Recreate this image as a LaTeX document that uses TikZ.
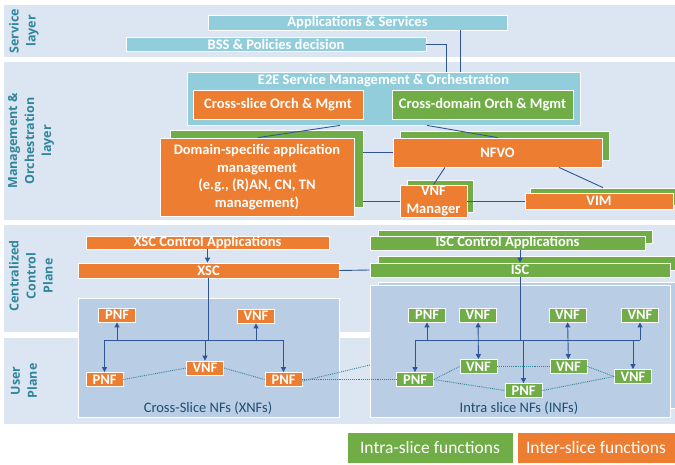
\documentclass[tikz,border=0pt]{standalone}
\usepackage{fontspec}
\setmainfont{Carlito}
\newfontfamily\sidefont{Open Sans}
\usetikzlibrary{arrows.meta}
\definecolor{laybg}{RGB}{220,230,242}
\definecolor{panelbg}{RGB}{185,205,229}
\definecolor{skyblue}{RGB}{146,205,220}
\definecolor{orng}{RGB}{237,125,49}
\definecolor{grn}{RGB}{112,173,71}
\definecolor{sidetxt}{RGB}{49,133,155}
\definecolor{linkblue}{RGB}{47,85,151}
\definecolor{dotteal}{RGB}{49,133,155}
\definecolor{nftxt}{RGB}{31,78,110}

\begin{document}
\begin{tikzpicture}[
		x=1pt, y=-1pt,
		box text/.style={text=white, inner sep=0pt, align=center, font=\bfseries\fontsize{14.5}{17.5}\selectfont},
		box/.style={box text, draw=white, line width=0.8pt},
		sky box/.style={box, fill=skyblue},
		orange box/.style={box, fill=orng},
		green box/.style={box, fill=grn},
		nf/.style={minimum width=37pt, minimum height=14pt},
		panel/.style={fill=panelbg, draw=white, line width=1pt, inner sep=0pt},
		panel title/.style={text=nftxt, inner sep=0pt, font=\fontsize{14.5}{17}\selectfont},
		layer label/.style={rotate=90, align=center, text=sidetxt, font=\sidefont\bfseries\fontsize{12.5}{17}\selectfont},
		legend/.style={text=white, inner sep=0pt, draw=white, line width=0.8pt, minimum height=31pt, font=\fontsize{17.5}{20}\selectfont},
		link/.style={draw=linkblue, line width=0.9pt},
		bus/.style={link, -{Triangle[length=5pt,width=5pt]}},
		both bus/.style={link, {Triangle[length=5pt,width=5pt]}-{Triangle[length=5pt,width=5pt]}},
		peer/.style={draw=dotteal, densely dotted, line width=0.9pt}
	]
	\useasboundingbox (0,0) rectangle (675,464);
	\fill[white] (0,0) rectangle (675,464);

	% layers
	\fill[laybg] (4,5) rectangle (675,57);
	\fill[laybg] (4,62) rectangle (675,220);
	\fill[laybg] (4,225) rectangle (675,332);
	\fill[laybg] (4,338) rectangle (675,424);
	\node[layer label] (servicelbl) at (24,31) {Service\\layer};
	\node[layer label] (mgmtlbl) at (31,141) {Management \&\\Orchestration\\layer};
	\node[layer label] (ctrllbl) at (31,276) {Centralized\\Control\\Plane};
	\node[layer label] (userlbl) at (24,381) {User\\Plane};

	% service layer
	\node[sky box, minimum width=299pt, minimum height=15pt] (apps) at (357.5,22.5) {Applications \& Services};
	\node[sky box, minimum width=300pt, minimum height=14pt] (bss) at (276,44) {BSS \& Policies decision};

	% management & orchestration
	\node[sky box, minimum width=393pt, minimum height=53pt] (e2e) at (383.5,98.5) {};
	\node[box text] (e2etitle) at (383.5,80.5) {E2E Service Management \& Orchestration};
	\node[orange box, minimum width=170pt, minimum height=29pt] (xorch) at (278,104.5) {Cross-slice Orch \& Mgmt};
	\node[green box, minimum width=181pt, minimum height=29pt] (dorch) at (482.5,104.5) {Cross-domain Orch \& Mgmt};
	\draw[link] (bss.east) -| ([xshift=62.5pt]e2e.north);
	\draw[link] ([xshift=102.5pt]apps.south) -- ([xshift=102.5pt]apps.south |- e2e.north);

	\node[green box, minimum width=193pt, minimum height=77pt] (domainsh) at (266.5,168.5) {};
	\node[orange box, minimum width=194pt, minimum height=78pt] (domain) at (257,177) {Domain-specific application\\management\\(e.g., (R)AN, CN, TN\\management)};
	\node[green box, minimum width=209pt, minimum height=29pt] (nfvosh) at (504.5,145.5) {};
	\node[orange box, minimum width=209pt, minimum height=29pt] (nfvo) at (497.5,152.5) {NFVO};
	\node[green box, minimum width=66pt, minimum height=32pt] (vnfmsh) at (440,196) {};
	\node[orange box, minimum width=67pt, minimum height=32pt] (vnfm) at (433.5,201) {VNF\\Manager};
	\node[green box, minimum width=146pt, minimum height=17pt] (vimsh) at (603,196.5) {};
	\node[orange box, minimum width=148pt, minimum height=16pt] (vim) at (599,201) {VIM};

	\draw[link] ([xshift=-43.5pt]e2e.south) -- ([xshift=1pt]domain.north);
	\draw[link] ([xshift=43.5pt]e2e.south) -- (nfvo.north);
	\draw[link] (nfvo.west -| domainsh.east) -- (nfvo.west);
	\draw[link] (vnfm.west -| domainsh.east) -- (vnfm.west);
	\draw[link] (vnfm.east) -- (vim.west);
	\draw[link] ([xshift=-52.5pt]nfvo.south) -- (vnfm.north);
	\draw[link] ([xshift=61.5pt]nfvo.south) -- (vimsh.north);

	% centralized control plane
	\node[orange box, minimum width=243pt, minimum height=13pt] (xscapp) at (207.5,242.5) {XSC Control Applications};
	\node[orange box, minimum width=261pt, minimum height=15pt] (xsc) at (208.5,270.5) {XSC};
	\node[green box, minimum width=274pt, minimum height=13pt] (iscappsh) at (515,236.5) {};
	\node[green box, minimum width=275pt, minimum height=14pt] (iscapp) at (507.5,243) {ISC Control Applications};
	\node[green box, minimum width=298pt, minimum height=14pt] (iscsh) at (527,263) {};
	\node[green box, minimum width=300pt, minimum height=14pt] (isc) at (520,270) {ISC};
	\draw[bus] (xscapp.south) -- (xscapp.south |- xsc.north);
	\draw[bus] (isc.north |- iscapp.south) -- (isc.north);
	\draw[link] (xsc.east) -- (isc.west);

	% cross-slice NFs
	\node[panel, minimum width=261pt, minimum height=119pt] (xnfs) at (208.5,357.5) {};
	\node[panel title] (xnftitle) at (208,408) {Cross-Slice NFs (XNFs)};
	\node[orange box, nf] (xpnfa) at (117,315) {PNF};
	\node[orange box, nf] (xvnfa) at (256,316) {VNF};
	\node[orange box, nf] (xpnfb) at (104.5,379.5) {PNF};
	\node[orange box, nf] (xvnfb) at (205,368) {VNF};
	\node[orange box, nf] (xpnfc) at (283.5,379.5) {PNF};
	\coordinate (xbus) at (208.5,340);
	\draw[link] (xsc.south) -- (xbus);
	\draw[link] (xpnfb |- xbus) -- (xpnfc |- xbus);
	\draw[bus] (xpnfb |- xbus) -- (xpnfb);
	\draw[bus] (xpnfa |- xbus) -- (xpnfa);
	\draw[bus] (xvnfb |- xbus) -- (xvnfb);
	\draw[bus] (xvnfa |- xbus) -- (xvnfa);
	\draw[bus] (xpnfc |- xbus) -- (xpnfc);
	\draw[peer] (xpnfb.east) -- (xvnfb.west);
	\draw[peer] (xvnfb.east) -- (xpnfc.west);
	\coordinate (behind) at (370,365);
	\draw[peer] ([yshift=-1.5pt]xpnfc.east) -- (behind);

	% intra-slice NFs
	\node[panel, minimum width=302pt, minimum height=126pt] (infsh) at (529,345) {};
	\node[panel, minimum width=300pt, minimum height=132pt] (infs) at (520,351) {};
	\node[panel title] (inftitle) at (519,408) {Intra slice NFs (INFs)};
	\node[green box, nf] (ipnfa) at (427,315) {PNF};
	\node[green box, nf] (ivnfa) at (478,315) {VNF};
	\node[green box, nf] (ivnfb) at (567.5,315) {VNF};
	\node[green box, nf] (ivnfc) at (640,315) {VNF};
	\node[green box, nf] (ipnfb) at (415,379.5) {PNF};
	\node[green box, nf] (ivnfd) at (478.5,366.5) {VNF};
	\node[green box, nf] (ipnfc) at (523.5,390.5) {PNF};
	\node[green box, nf] (ivnfe) at (568.5,366.5) {VNF};
	\node[green box, nf] (ivnff) at (633,376.5) {VNF};
	\coordinate (ibus) at (520,340);
	\draw[link] (isc.south) -- (ibus);
	\draw[link] (ipnfb |- ibus) -- (ivnfc |- ibus);
	\draw[bus] (ipnfb |- ibus) -- (ipnfb);
	\draw[bus] (ipnfa |- ibus) -- (ipnfa);
	\draw[both bus] (ivnfa) -- (ivnfd);
	\draw[bus] (ipnfc |- ibus) -- (ipnfc);
	\draw[both bus] (ivnfb) -- (ivnfe);
	\draw[bus] (ivnfc |- ibus) -- (ivnfc);
	\draw[bus] (ivnff |- ibus) -- (ivnff);
	\draw[peer] (xpnfc.east) -- (ipnfb.west);
	\draw[peer] (ipnfb.east) -- (ivnfd.west);
	\draw[peer] (ipnfb.east) -- (ipnfc.west);
	\draw[peer] (ivnfd.east) -- (ivnfe.west);
	\draw[peer] (ipnfc.east) -- (ivnff.west);
	\draw[peer] (ivnfe.east) -- (ivnff.west);

	% legend
	\node[legend, fill=grn, minimum width=166pt] (intra) at (430,447.5) {Intra-slice functions};
	\node[legend, fill=orng, minimum width=158pt] (inter) at (596,447.5) {Inter-slice functions};
\end{tikzpicture}
\end{document}
